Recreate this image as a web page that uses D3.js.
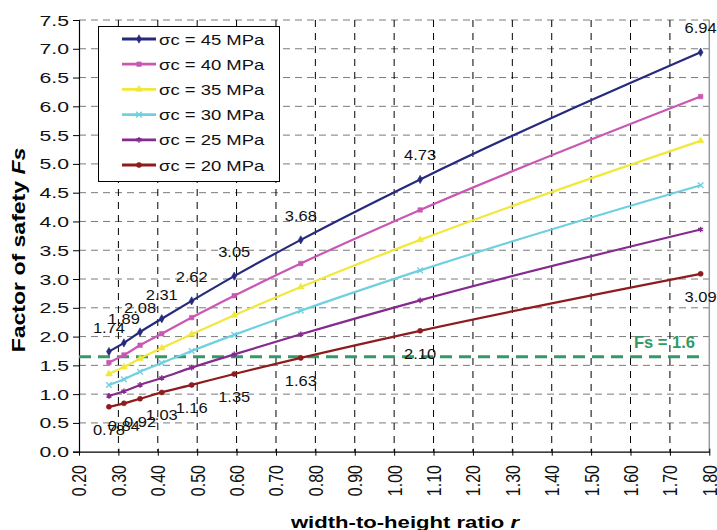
<!DOCTYPE html>
<meta charset="utf-8">
<script src="https://d3js.org/d3.v7.min.js"></script>
<style>
  body { margin: 0; background: #fff; }
  text { font-family: "Liberation Sans", Arial, sans-serif; }
</style>
<div id="chart"></div>
<script>

// width-to-height ratio r at each computed point
const ratios = [0.276, 0.314, 0.355, 0.410, 0.486, 0.594, 0.763, 1.066, 1.778];

// factor of safety per compressive strength
const fs45 = [1.74, 1.89, 2.08, 2.31, 2.62, 3.05, 3.68, 4.73, 6.94];
const fs40 = [1.55, 1.68, 1.85, 2.05, 2.33, 2.71, 3.27, 4.20, 6.17];
const fs35 = [1.35, 1.47, 1.62, 1.80, 2.04, 2.37, 2.86, 3.68, 5.40];
const fs30 = [1.16, 1.26, 1.39, 1.54, 1.75, 2.03, 2.45, 3.15, 4.63];
const fs25 = [0.97, 1.05, 1.16, 1.28, 1.46, 1.69, 2.04, 2.63, 3.86];
const fs20 = [0.78, 0.84, 0.92, 1.03, 1.16, 1.35, 1.63, 2.10, 3.09];

const seriesNames = ["σc = 45 MPa", "σc = 40 MPa", "σc = 35 MPa", "σc = 30 MPa", "σc = 25 MPa", "σc = 20 MPa"];
const seriesValues = [fs45, fs40, fs35, fs30, fs25, fs20];
const seriesColors = ["#262a7c", "#c957b3", "#f2e83a", "#6fd0e0", "#852a8e", "#8e1b1e"];
const seriesSymbols = [d3.symbolDiamond, d3.symbolSquare, d3.symbolTriangle, d3.symbolTimes, d3.symbolAsterisk, d3.symbolCircle];

const yTicks = d3.range(0, 7.51, 0.5);
const xTicks = d3.range(0.2, 1.801, 0.1);
const limitValue = 1.65;
const limitLabel = "Fs = 1.6";

const W = 717, H = 530;
const svg = d3.select("#chart").append("svg")
    .attr("width", W)
    .attr("height", H);

const x = d3.scaleLinear().domain([0.2, 1.8]).range([79, 709.3]);
const y = d3.scaleLinear().domain([0, 7.5]).range([451.7, 20]);

// horizontal grid (gray dashed)
svg.append("g").selectAll("line")
  .data(yTicks.filter(d => d > 0))
  .join("line")
    .attr("x1", x(0.2)).attr("x2", x(1.8))
    .attr("y1", d => y(d)).attr("y2", d => y(d))
    .attr("stroke", "#7a7a7a")
    .attr("stroke-width", 1)
    .attr("stroke-dasharray", "7,5");

// vertical grid (black dashed)
svg.append("g").selectAll("line")
  .data(xTicks.filter(d => d > 0.25 && d < 1.75))
  .join("line")
    .attr("x1", d => x(d)).attr("x2", d => x(d))
    .attr("y1", y(7.5)).attr("y2", y(0))
    .attr("stroke", "#000")
    .attr("stroke-width", 1)
    .attr("stroke-dasharray", "7,6");

// right border
svg.append("line")
    .attr("x1", x(1.8)).attr("x2", x(1.8))
    .attr("y1", y(7.5)).attr("y2", y(0))
    .attr("stroke", "#9a9a9a")
    .attr("stroke-width", 1.5);

// axes
const yAxis = svg.append("g")
    .attr("transform", `translate(${x(0.2)},0)`)
    .call(d3.axisLeft(y).tickValues(yTicks).tickSize(6).tickFormat(""));
yAxis.select(".domain").attr("stroke", "#000").attr("stroke-width", 1.2);

const xAxis = svg.append("g")
    .attr("transform", `translate(0,${y(0)})`)
    .call(d3.axisBottom(x).tickValues(xTicks).tickSize(4).tickSizeOuter(0).tickFormat(""));
xAxis.select(".domain").attr("stroke", "#000").attr("stroke-width", 1.2);
xAxis.selectAll(".tick line").attr("y1", -3);

// y tick labels (stretched horizontally like the original)
svg.append("g").selectAll("text")
  .data(yTicks)
  .join("text")
    .attr("transform", d => `translate(69,${y(d) + 5.5}) scale(1.38,1)`)
    .attr("text-anchor", "end")
    .attr("font-size", 15.4)
    .attr("fill", "#111")
    .text(d => d.toFixed(1));

// x tick labels, rotated
svg.append("g").selectAll("text")
  .data(xTicks)
  .join("text")
    .attr("transform", d => `translate(${x(d)},465) scale(1.3,1) rotate(-90)`)
    .attr("text-anchor", "end")
    .attr("dy", "0.36em")
    .attr("font-size", 16)
    .attr("fill", "#111")
    .text(d => d.toFixed(2));

// axis titles
const xTitle = svg.append("text")
    .attr("transform", "translate(405,528) scale(1.3,1)")
    .attr("text-anchor", "middle")
    .attr("font-size", 17)
    .attr("font-weight", "bold");
xTitle.append("tspan").text("width-to-height ratio ");
xTitle.append("tspan").attr("font-style", "italic").text("r");

const yTitle = svg.append("text")
    .attr("transform", "translate(25,250) rotate(-90) scale(1.28,1)")
    .attr("text-anchor", "middle")
    .attr("font-size", 18)
    .attr("font-weight", "bold");
yTitle.append("tspan").text("Factor of safety ");
yTitle.append("tspan").attr("font-style", "italic").text("Fs");

// Fs limit line
svg.append("line")
    .attr("x1", x(0.2)).attr("x2", 705)
    .attr("y1", y(limitValue)).attr("y2", y(limitValue))
    .attr("stroke", "#339966")
    .attr("stroke-width", 3)
    .attr("stroke-dasharray", "12,7");
svg.append("text")
    .attr("x", 634).attr("y", 347.5)
    .attr("font-family", "'Liberation Serif', 'Times New Roman', serif")
    .attr("font-size", 16.5)
    .attr("font-weight", "bold")
    .attr("fill", "#339966")
    .text(limitLabel);

// series lines + markers
const line = d3.line()
    .x(d => x(d[0]))
    .y(d => y(d[1]))
    .curve(d3.curveMonotoneX);

function drawMarker(g, sym, color, cx, cy) {
  const stroke = sym === d3.symbolTimes || sym === d3.symbolAsterisk;
  g.append("path")
      .attr("d", d3.symbol(sym, stroke ? 22 : 20)())
      .attr("transform", `translate(${cx},${cy})`)
      .attr("fill", stroke ? "none" : color)
      .attr("stroke", color)
      .attr("stroke-width", stroke ? 1.4 : 0.6);
}

seriesValues.forEach((vals, i) => {
  const pts = ratios.map((r, j) => [r, vals[j]]);
  const g = svg.append("g");
  g.append("path")
      .datum(pts)
      .attr("d", line)
      .attr("fill", "none")
      .attr("stroke", seriesColors[i])
      .attr("stroke-width", 2.2);
  pts.forEach(p => drawMarker(g, seriesSymbols[i], seriesColors[i], x(p[0]), y(p[1])));
});

// data labels: top series above, bottom series below
svg.append("g").selectAll("text")
  .data(ratios.map((r, j) => [r, fs45[j]]))
  .join("text")
    .attr("transform", d => `translate(${x(d[0])},${y(d[1]) - 19}) scale(1.1,1)`)
    .attr("text-anchor", "middle")
    .attr("font-size", 15)
    .attr("fill", "#111")
    .text(d => d[1].toFixed(2));

svg.append("g").selectAll("text")
  .data(ratios.map((r, j) => [r, fs20[j]]))
  .join("text")
    .attr("transform", d => `translate(${x(d[0])},${y(d[1]) + 28}) scale(1.1,1)`)
    .attr("text-anchor", "middle")
    .attr("font-size", 15)
    .attr("fill", "#111")
    .text(d => d[1].toFixed(2));

// legend
const legend = svg.append("g");
legend.append("rect")
    .attr("x", 98.5).attr("y", 26.5)
    .attr("width", 181).attr("height", 155)
    .attr("fill", "#fff")
    .attr("stroke", "#000")
    .attr("stroke-width", 1);

seriesNames.forEach((name, i) => {
  const cy = 39 + i * 25.2;
  legend.append("line")
      .attr("x1", 122).attr("x2", 156)
      .attr("y1", cy).attr("y2", cy)
      .attr("stroke", seriesColors[i])
      .attr("stroke-width", 2.8);
  drawMarker(legend, seriesSymbols[i], seriesColors[i], 139, cy);
  legend.append("text")
      .attr("transform", `translate(159,${cy + 5.5}) scale(1.2,1)`)
      .attr("font-size", 15.4)
      .attr("fill", "#111")
      .text(name);
});

</script>
